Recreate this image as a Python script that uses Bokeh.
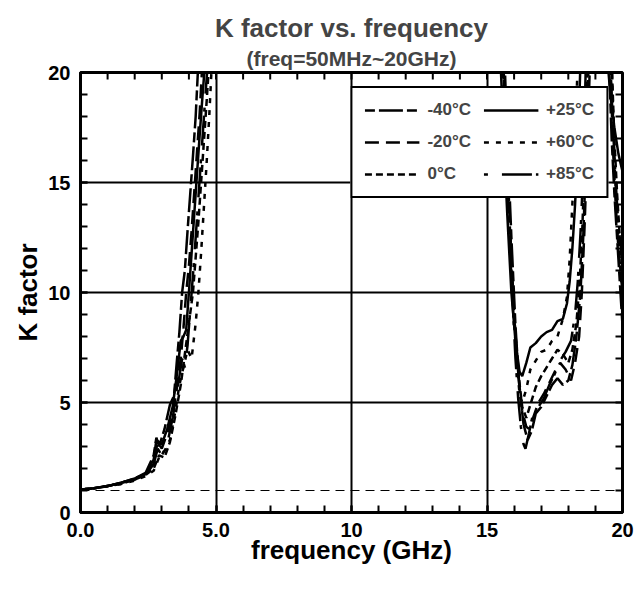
import math
from bokeh.plotting import figure
from bokeh.models import (Range1d, FixedTicker, Title, Legend, LegendItem, Span)
from bokeh.embed import file_html
from bokeh.resources import INLINE

NAN = float("nan")

temps = ["-40°C", "-20°C", "0°C", "+25°C", "+60°C", "+85°C"]

# ---- -40 C ----
f_m40_a = [0.05, 0.5, 1.0, 1.5, 2.0, 2.4, 2.7, 2.8, 2.9, 3.1, 3.3, 3.45, 3.55, 3.65, 3.75, 3.85, 3.95, 4.05, 4.15, 4.25, 4.35]
k_m40_a = [1.05, 1.1, 1.2, 1.35, 1.55, 1.8, 2.6, 3.4, 3.0, 3.8, 4.9, 5.3, 6.8, 8.2, 10.0, 11.0, 12.8, 14.5, 16.2, 18.0, 20.5]
f_m40_b = [15.65, 15.75, 15.9, 16.05, 16.2, 16.35, 16.5, 16.65, 16.8, 17.0, 17.2, 17.4, 17.6, 17.8, 18.0, 18.15, 18.3, 18.45, 18.55, 18.65, 18.75]
k_m40_b = [20.5, 17.0, 12.5, 8.5, 5.6, 4.0, 3.3, 3.7, 4.5, 4.8, 5.3, 5.8, 6.1, 5.8, 6.0, 6.7, 8.0, 10.0, 12.5, 16.0, 20.5]
f_m40_c = [19.5, 19.6, 19.7, 19.8, 19.9, 20.0]
k_m40_c = [20.5, 17.0, 14.5, 12.5, 10.5, 8.5]

# ---- -20 C ----
f_m20_a = [0.05, 0.5, 1.0, 1.5, 2.0, 2.4, 2.7, 2.85, 3.0, 3.2, 3.4, 3.55, 3.7, 3.8, 3.9, 4.0, 4.1, 4.2, 4.3, 4.4, 4.5]
k_m20_a = [1.05, 1.1, 1.2, 1.35, 1.5, 1.75, 2.3, 3.2, 2.9, 3.6, 4.4, 5.6, 7.0, 8.4, 10.0, 11.2, 12.8, 14.6, 16.4, 18.2, 20.5]
f_m20_b = [15.6, 15.7, 15.85, 16.0, 16.15, 16.3, 16.45, 16.55, 16.7, 16.9, 17.1, 17.3, 17.5, 17.7, 17.9, 18.1, 18.25, 18.4, 18.5, 18.6, 18.7, 18.8]
k_m20_b = [20.5, 17.5, 13.0, 9.0, 6.3, 4.6, 3.9, 3.8, 4.3, 5.0, 5.4, 5.9, 6.4, 6.8, 6.5, 6.0, 6.8, 8.0, 10.0, 13.0, 16.5, 20.5]
f_m20_c = [19.55, 19.65, 19.75, 19.85, 20.0]
k_m20_c = [20.5, 16.5, 14.0, 12.0, 10.0]

# ---- 0 C ----
f_0_a = [0.05, 0.5, 1.0, 1.5, 2.0, 2.4, 2.7, 2.9, 3.1, 3.3, 3.5, 3.7, 3.85, 4.0, 4.15, 4.25, 4.35, 4.45, 4.55, 4.65, 4.75]
k_0_a = [1.05, 1.1, 1.2, 1.3, 1.5, 1.7, 2.0, 2.6, 2.5, 3.2, 4.4, 5.8, 7.2, 8.6, 10.0, 11.6, 13.2, 15.0, 16.8, 18.6, 20.5]
f_0_b = [15.6, 15.7, 15.85, 16.0, 16.15, 16.3, 16.45, 16.6, 16.8, 17.0, 17.2, 17.4, 17.6, 17.8, 18.0, 18.15, 18.3, 18.42, 18.52, 18.62, 18.72]
k_0_b = [20.5, 17.2, 12.8, 9.0, 6.4, 4.8, 4.3, 4.9, 5.7, 6.2, 6.6, 7.0, 7.4, 7.2, 6.8, 7.4, 8.6, 10.5, 13.0, 16.5, 20.5]
f_0_c = [19.6, 19.7, 19.8, 19.9, 20.0]
k_0_c = [20.5, 17.0, 14.5, 12.5, 11.0]

# ---- +25 C ----
f_p25_a = [0.05, 0.5, 1.0, 1.5, 2.0, 2.4, 2.7, 2.8, 3.0, 3.2, 3.4, 3.55, 3.7, 3.8, 3.9, 4.0, 4.1, 4.2, 4.3, 4.4, 4.5, 4.6]
k_p25_a = [1.05, 1.1, 1.2, 1.35, 1.55, 1.75, 2.4, 3.3, 3.1, 3.8, 4.8, 6.2, 7.8, 8.0, 8.3, 10.0, 11.8, 13.6, 15.4, 17.2, 18.9, 20.5]
f_p25_b = [15.5, 15.6, 15.75, 15.9, 16.05, 16.2, 16.3, 16.45, 16.6, 16.8, 17.0, 17.2, 17.4, 17.6, 17.8, 17.95, 18.05, 18.15, 18.25, 18.35, 18.45]
k_p25_b = [20.5, 17.5, 13.5, 10.0, 7.8, 6.4, 6.2, 6.8, 7.5, 7.7, 8.0, 8.2, 8.3, 8.7, 8.8, 9.5, 10.5, 12.0, 14.0, 16.5, 20.5]
f_p25_c = [19.45, 19.56, 19.7, 19.85, 20.0]
k_p25_c = [20.5, 18.9, 17.5, 16.3, 15.5]

# ---- +60 C ----
f_p60_a = [0.05, 0.5, 1.0, 1.5, 2.0, 2.4, 2.7, 2.9, 3.1, 3.3, 3.5, 3.65, 3.8, 3.95, 4.1, 4.25, 4.35, 4.45, 4.55, 4.65, 4.75, 4.85]
k_p60_a = [1.05, 1.1, 1.2, 1.3, 1.45, 1.65, 1.9, 2.5, 2.8, 3.3, 4.6, 5.8, 6.6, 7.4, 7.0, 8.6, 10.0, 11.8, 13.8, 15.8, 18.0, 20.5]
f_p60_b = [15.55, 15.65, 15.8, 15.95, 16.1, 16.2, 16.3, 16.45, 16.6, 16.8, 17.0, 17.2, 17.4, 17.6, 17.8, 17.95, 18.05, 18.15, 18.25, 18.35]
k_p60_b = [20.5, 17.0, 13.0, 9.6, 6.8, 5.4, 5.0, 5.6, 6.5, 6.9, 7.3, 7.4, 7.8, 8.0, 8.8, 9.8, 11.5, 14.0, 17.0, 20.5]
f_p60_c = [19.6, 19.7, 19.8, 19.9, 20.0]
k_p60_c = [20.5, 16.0, 13.5, 11.5, 9.5]

# ---- +85 C ----
f_p85_a = [0.05, 0.5, 1.0, 1.5, 2.0, 2.4, 2.7, 2.85, 3.0, 3.2, 3.4, 3.6, 3.75, 3.85, 3.95, 4.1, 4.2, 4.3, 4.4, 4.5, 4.6, 4.7]
k_p85_a = [1.05, 1.1, 1.2, 1.35, 1.5, 1.7, 2.2, 2.9, 2.6, 3.1, 4.3, 5.8, 7.0, 6.6, 7.6, 10.0, 11.6, 13.4, 15.2, 17.0, 18.8, 20.5]
f_p85_b = [15.6, 15.7, 15.8, 15.95, 16.05, 16.15, 16.25, 16.35, 16.42, 16.55, 16.7, 16.9, 17.1, 17.3, 17.5, 17.7, 17.9, 18.1, 18.25, 18.35, 18.45, 18.55, 18.65]
k_p85_b = [20.5, 17.0, 13.5, 9.5, 7.0, 5.2, 3.9, 3.1, 2.9, 3.6, 4.5, 4.8, 5.2, 5.8, 6.3, 6.9, 7.3, 7.8, 9.0, 10.5, 12.7, 15.5, 20.5]
f_p85_c = [19.55, 19.65, 19.75, 19.85, 20.0]
k_p85_c = [20.5, 17.5, 15.0, 13.0, 11.5]

x_ticks = [0, 5, 10, 15, 20]
x_tick_labels = ["0.0", "5.0", "10", "15", "20"]
y_ticks = [0, 5, 10, 15, 20]
y_tick_labels = ["0", "5", "10", "15", "20"]
minor = list(range(0, 21))
k_unity = 1.0

series = [
    (f_m40_a, k_m40_a, f_m40_b, k_m40_b, f_m40_c, k_m40_c),
    (f_m20_a, k_m20_a, f_m20_b, k_m20_b, f_m20_c, k_m20_c),
    (f_0_a, k_0_a, f_0_b, k_0_b, f_0_c, k_0_c),
    (f_p25_a, k_p25_a, f_p25_b, k_p25_b, f_p25_c, k_p25_c),
    (f_p60_a, k_p60_a, f_p60_b, k_p60_b, f_p60_c, k_p60_c),
    (f_p85_a, k_p85_a, f_p85_b, k_p85_b, f_p85_c, k_p85_c),
]
dashes = ["10 4 24 4", "14 7", "7 4", "solid", "5 7", "4 14 30 4"]

FONT = "Liberation Sans"

p = figure(frame_width=542, frame_height=440, output_backend="svg",
           toolbar_location=None, x_range=Range1d(0, 20), y_range=Range1d(0, 20),
           min_border_left=80, min_border_top=72, min_border_right=14,
           min_border_bottom=76)
p.background_fill_color = "white"
p.outline_line_color = "black"
p.outline_line_width = 3
p.outline_line_alpha = 1.0

def style_axis(ax, ticks, labels):
    ax.ticker = FixedTicker(ticks=ticks, minor_ticks=minor)
    ax.major_label_overrides = {t: l for t, l in zip(ticks, labels)}
    ax.axis_line_width = 3
    ax.axis_line_color = "black"
    ax.major_tick_in = 7
    ax.major_tick_out = 0
    ax.minor_tick_in = 7
    ax.minor_tick_out = 0
    ax.major_tick_line_width = 2
    ax.minor_tick_line_width = 2
    ax.major_label_text_font = FONT
    ax.major_label_text_font_style = "bold"
    ax.major_label_text_font_size = "20px"
    ax.major_label_text_color = "black"
    ax.axis_label_text_font = FONT
    ax.axis_label_text_font_style = "bold"
    ax.axis_label_text_font_size = "26px"
    ax.axis_label_text_color = "black"

style_axis(p.xaxis[0], x_ticks, x_tick_labels)
style_axis(p.yaxis[0], y_ticks, y_tick_labels)
p.xaxis[0].axis_label = "frequency (GHz)"
p.yaxis[0].axis_label = "K factor"
p.xaxis[0].major_label_standoff = 10
p.yaxis[0].major_label_standoff = 10
p.xaxis[0].axis_label_standoff = -5
p.yaxis[0].axis_label_standoff = 2

sub = Title(text="(freq=50MHz~20GHz)", align="center", text_font=FONT,
            text_font_style="bold", text_font_size="21px", standoff=5)
main = Title(text="K factor vs. frequency", align="center", text_font=FONT,
             text_font_style="bold", text_font_size="26px", standoff=0)
p.add_layout(sub, "above")
p.add_layout(main, "above")

p.xgrid.grid_line_color = "black"
p.ygrid.grid_line_color = "black"
p.xgrid.grid_line_width = 2
p.ygrid.grid_line_width = 2
p.xgrid.ticker = FixedTicker(ticks=x_ticks)
p.ygrid.ticker = FixedTicker(ticks=y_ticks)

p.add_layout(Span(location=k_unity, dimension="width", line_color="black",
                  line_width=1, line_dash="9 6"))

# mirrored ticks on the top and right frame edges (half of each dash is clipped)
top_y = [y_ticks[-1]] * len(minor)
right_x = [x_ticks[-1]] * len(minor)
p.scatter(minor, top_y, marker="dash", size=14, angle=math.pi / 2,
          line_color="black", line_width=2)
p.scatter(right_x, minor, marker="dash", size=14, angle=0,
          line_color="black", line_width=2)

items = []
for name, s, d in zip(temps, series, dashes):
    fa, ka, fb, kb, fc, kc = s
    xs = fa + [NAN] + fb + [NAN] + fc
    ys = ka + [NAN] + kb + [NAN] + kc
    r = p.line(xs, ys, line_color="black", line_width=2.5, line_dash=d)
    items.append(LegendItem(label=name, renderers=[r]))

legend = Legend(items=items, location="top_right", ncols=2,
                label_text_font=FONT, label_text_font_style="bold",
                label_text_font_size="17px", glyph_width=55, glyph_height=20,
                label_height=20, label_standoff=8, spacing=12, padding=12,
                margin=14, border_line_color="black", border_line_width=2,
                border_line_alpha=1.0,
                background_fill_color="white", background_fill_alpha=1.0)
p.add_layout(legend, "center")

open("out.html", "w").write(file_html(p, INLINE))
